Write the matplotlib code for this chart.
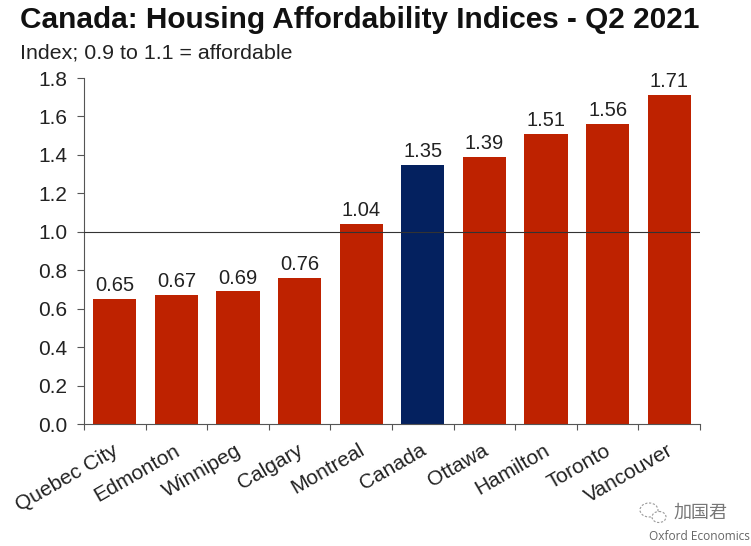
import matplotlib
matplotlib.use('Agg')
import matplotlib.pyplot as plt
from matplotlib.patches import Ellipse

W, H = 751, 546
cities = ['Quebec City', 'Edmonton', 'Winnipeg', 'Calgary', 'Montreal', 'Canada',
          'Ottawa', 'Hamilton', 'Toronto', 'Vancouver']
values = [0.65, 0.67, 0.69, 0.76, 1.04, 1.35, 1.39, 1.51, 1.56, 1.71]
highlight = 'Canada'
y_ticks = [0.0, 0.2, 0.4, 0.6, 0.8, 1.0, 1.2, 1.4, 1.6, 1.8]
reference_level = 1.0

plt.rcParams['font.family'] = ['Liberation Sans', 'Noto Sans CJK SC', 'DejaVu Sans']
fig = plt.figure(figsize=(W / 100, H / 100), dpi=100)
left, right, top, bot = 84, 700, 78, 424
ax = fig.add_axes([left / W, 1 - bot / H, (right - left) / W, (bot - top) / H])

colors = ['#04215F' if c == highlight else '#BE2200' for c in cities]
xs = list(range(len(cities)))
ax.bar(xs, values, width=0.7, color=colors, zorder=2)
for x, v in zip(xs, values):
    ax.text(x, v + 0.02, f'{v:.2f}', ha='center', va='bottom', fontsize=14.5, color='#222222', zorder=4)
ax.axhline(reference_level, color='#333333', lw=0.8, zorder=3)

ax.set_xlim(-0.5, len(cities) - 0.5)
ax.set_ylim(0, 1.8)
ax.set_yticks(y_ticks)
ax.set_yticklabels([f'{t:.1f}' for t in y_ticks], fontsize=15, color='#222222')
ax.set_xticks([x - 0.5 for x in xs] + [len(cities) - 0.5])
ax.set_xticklabels([])
ax.tick_params(axis='y', length=4.7, width=0.8, pad=7.5, color='#555555')
ax.tick_params(axis='x', length=4.5, width=0.8, color='#555555')
for s in ['top', 'right']:
    ax.spines[s].set_visible(False)
for s in ['left', 'bottom']:
    ax.spines[s].set_linewidth(0.8)
    ax.spines[s].set_color('#555555')

for x, c in zip(xs, cities):
    ax.annotate(c, (x, 0), xycoords=('data', 'axes fraction'), xytext=(-2, -12), textcoords='offset points',
                rotation=30, ha='right', va='top', rotation_mode='anchor', fontsize=15.0, color='#222222')

fig.text(20 / W, 1 - 19.5 / H, 'Canada: Housing Affordability Indices - Q2 2021', fontsize=21.4,
         fontweight='bold', va='center', ha='left', color='#111111')
fig.text(20 / W, 1 - 53 / H, 'Index; 0.9 to 1.1 = affordable', fontsize=15.4, va='center', ha='left', color='#222222')

logo = fig.add_axes([636 / W, 1 - 528 / H, 34 / W, 28 / H])
logo.set_xlim(0, 34)
logo.set_ylim(28, 0)
logo.axis('off')
logo.add_patch(Ellipse((13, 10), 18, 14, fill=False, ec='#999999', lw=0.8, ls=(0, (2, 1.5))))
logo.add_patch(Ellipse((23, 17), 14, 11, fc='white', ec='#999999', lw=0.8, ls=(0, (2, 1.5))))

fig.text(674 / W, 1 - 513 / H, '加国君', fontsize=13, va='center', ha='left', color='#777777')
fig.text(750 / W, 1 - 536 / H, 'Oxford Economics', fontsize=8.6, va='center', ha='right',
         family='Open Sans', color='#666666')
fig.savefig('out.png', dpi=100)
